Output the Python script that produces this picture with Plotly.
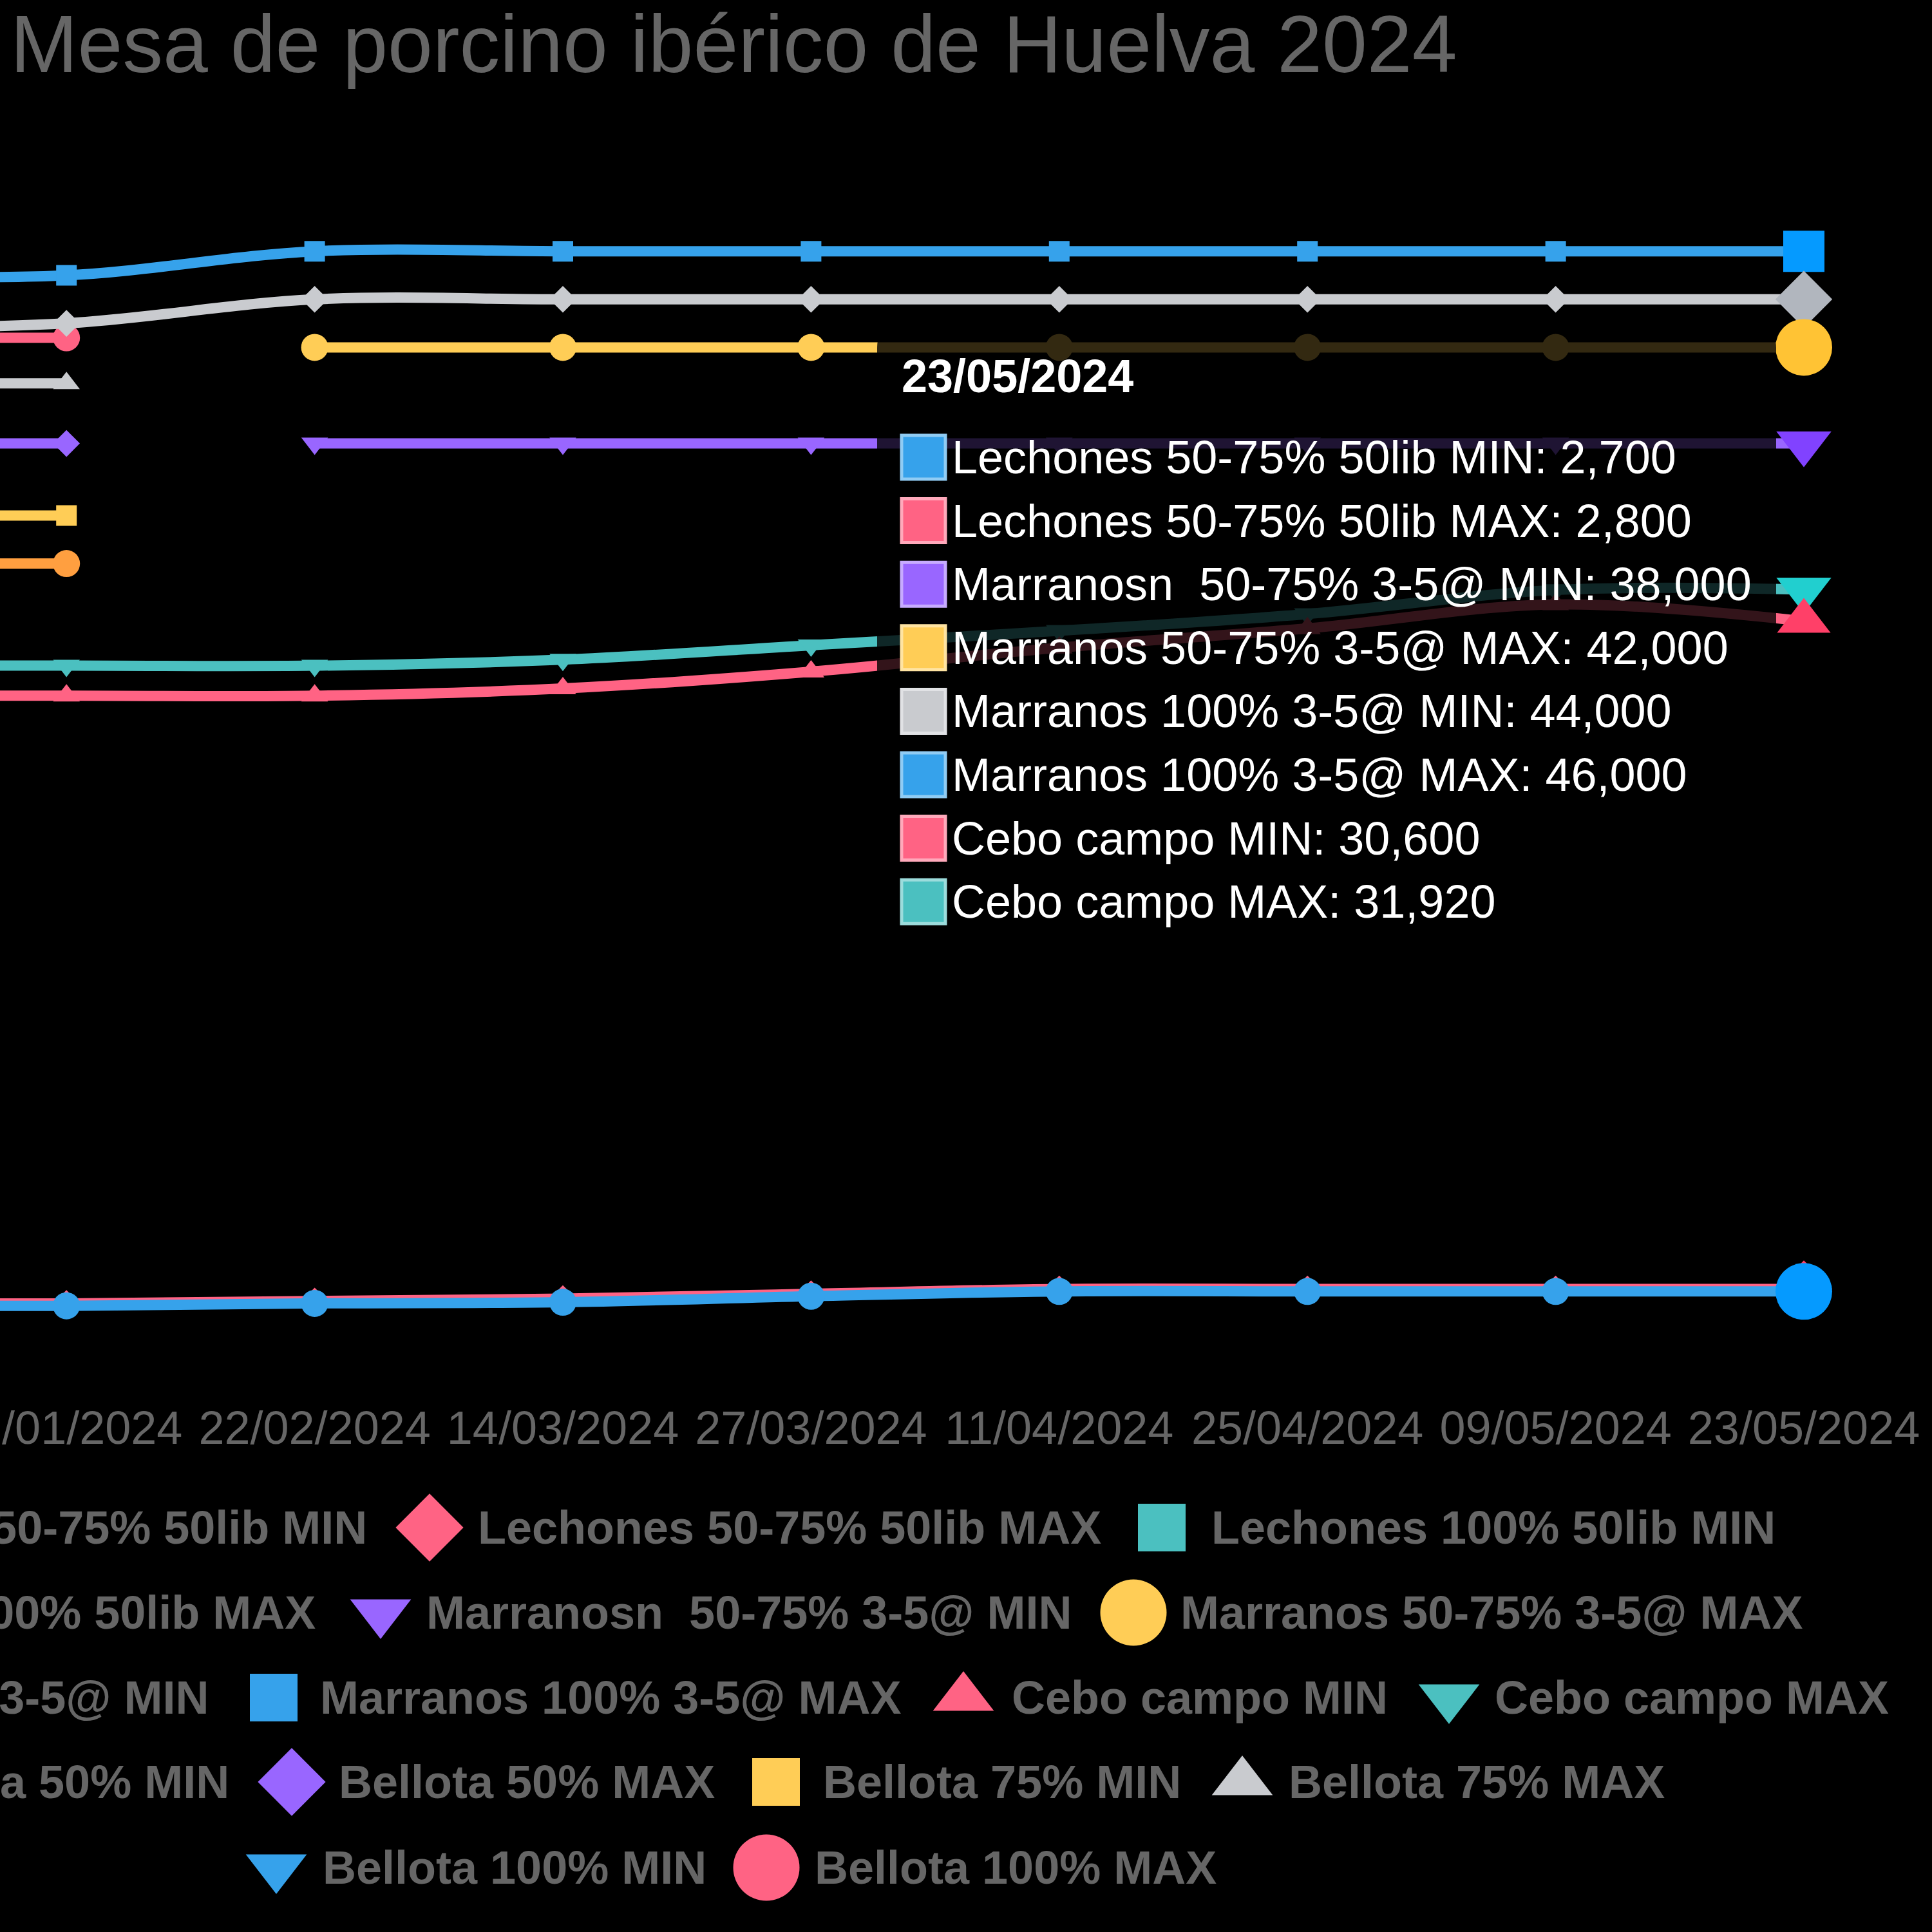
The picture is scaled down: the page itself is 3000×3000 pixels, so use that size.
import colorsys
import plotly.graph_objects as go

# ---------------- data ----------------
categories = ["11/01/2024", "25/01/2024", "22/02/2024", "14/03/2024", "27/03/2024",
              "11/04/2024", "25/04/2024", "09/05/2024", "23/05/2024"]

series_names = [
    "Lechones 50-75% 50lib MIN", "Lechones 50-75% 50lib MAX",
    "Lechones 100% 50lib MIN", "Lechones 100% 50lib MAX",
    "Marranosn  50-75% 3-5@ MIN", "Marranos 50-75% 3-5@ MAX",
    "Marranos 100% 3-5@ MIN", "Marranos 100% 3-5@ MAX",
    "Cebo campo MIN", "Cebo campo MAX",
    "Bellota 50% MIN", "Bellota 50% MAX",
    "Bellota 75% MIN", "Bellota 75% MAX",
    "Bellota 100% MIN", "Bellota 100% MAX",
]

lechones_5075_min = [2100, 2100, 2200, 2250, 2500, 2700, 2700, 2700, 2700]
lechones_5075_max = [2200, 2200, 2300, 2400, 2600, 2800, 2800, 2800, 2800]
lechones_100_min = [None, None, None, None, None, None, None, None, None]
lechones_100_max = [None, None, None, None, None, None, None, None, None]
marranos_5075_min = [None, None, 38000, 38000, 38000, 38000, 38000, 38000, 38000]
marranos_5075_max = [None, None, 42000, 42000, 42000, 42000, 42000, 42000, 42000]
marranos_100_min = [42800, 43000, 44000, 44000, 44000, 44000, 44000, 44000, 44000]
marranos_100_max = [45000, 45000, 46000, 46000, 46000, 46000, 46000, 46000, 46000]
cebo_min = [27500, 27500, 27500, 27800, 28500, 29500, 30300, 31300, 30600]
cebo_max = [28750, 28750, 28750, 29000, 29600, 30200, 30900, 31900, 31920]
bellota_50_min = [33000, 33000, None, None, None, None, None, None, None]
bellota_50_max = [38000, 38000, None, None, None, None, None, None, None]
bellota_75_min = [35000, 35000, None, None, None, None, None, None, None]
bellota_75_max = [40500, 40500, None, None, None, None, None, None, None]
bellota_100_min = [None, None, None, None, None, None, None, None, None]
bellota_100_max = [42400, 42400, None, None, None, None, None, None, None]

series_values = [
    lechones_5075_min, lechones_5075_max, lechones_100_min, lechones_100_max,
    marranos_5075_min, marranos_5075_max, marranos_100_min, marranos_100_max,
    cebo_min, cebo_max, bellota_50_min, bellota_50_max,
    bellota_75_min, bellota_75_max, bellota_100_min, bellota_100_max,
]

hovered_index = len(categories) - 1
title_text = "Mesa de porcino ibérico de Huelva 2024"

# ---------------- styles ----------------
palette = ["#36A2EB", "#FF6384", "#4BC0C0", "#FF9F40", "#9966FF", "#FFCD56", "#C9CBCF"]
point_styles = ["circle", "diamond", "square", "triangle-up", "triangle-down"]
normal_size = {"circle": 42, "diamond": 32, "square": 32, "triangle-up": 36, "triangle-down": 36}
hover_size = {"circle": 88, "diamond": 68, "square": 64, "triangle-up": 72, "triangle-down": 74}
legend_size = {"circle": 103, "diamond": 81, "square": 74, "triangle-up": 82, "triangle-down": 82}

FONT = "Liberation Sans, Arial, sans-serif"
GREY = "#666666"
W = H = 3000


def hover_color(hexc):
    r, g, b = [int(hexc[k:k + 2], 16) / 255 for k in (1, 3, 5)]
    h, l, s = colorsys.rgb_to_hls(r, g, b)
    s = min(1.0, s * 1.5)
    l = l * 0.9
    r, g, b = colorsys.hls_to_rgb(h, l, s)
    return "rgb(%d,%d,%d)" % (round(r * 255), round(g * 255), round(b * 255))


def tint(hexc, f=0.45):
    r, g, b = [int(hexc[k:k + 2], 16) for k in (1, 3, 5)]
    return "rgb(%d,%d,%d)" % (round(r + (255 - r) * f), round(g + (255 - g) * f), round(b + (255 - b) * f))


def disp(name):
    return name.replace("  ", " \u00a0")


fig = go.Figure()

# ---------------- main lines (dataset 0 drawn on top) ----------------
for i in reversed(range(len(series_names))):
    vals = series_values[i]
    col = palette[i % len(palette)]
    sym = point_styles[i % len(point_styles)]
    sizes = [hover_size[sym] if (j == hovered_index and v is not None) else normal_size[sym]
             for j, v in enumerate(vals)]
    cols = [hover_color(col) if (j == hovered_index and v is not None) else col
            for j, v in enumerate(vals)]
    fig.add_trace(go.Scatter(
        x=categories, y=vals, mode="lines+markers", name=series_names[i],
        line=dict(color=col, width=16, shape="spline", smoothing=1.0),
        marker=dict(symbol=sym, size=sizes, color=cols, opacity=1, line=dict(width=0)),
        cliponaxis=False, showlegend=False, hoverinfo="skip",
        xaxis="x", yaxis="y",
    ))

# ---------------- custom legend (pixel overlay axes) ----------------
legend_rows_y = [2372, 2504, 2636, 2767, 2900]
# (series index, row, symbol centre x or None, text x, text anchor)
legend_items = [
    (0, 0, None, 572, "right"), (1, 0, 667, 740, "left"), (2, 0, 1804, 1879, "left"),
    (3, 1, None, 492, "right"), (4, 1, 591, 660, "left"), (5, 1, 1760, 1831, "left"),
    (6, 2, None, 327, "right"), (7, 2, 425, 495, "left"), (8, 2, 1496, 1569, "left"),
    (9, 2, 2250, 2319, "left"),
    (10, 3, None, 358, "right"), (11, 3, 453, 524, "left"), (12, 3, 1205, 1276, "left"),
    (13, 3, 1929, 1999, "left"),
    (14, 4, 429, 499, "left"), (15, 4, 1190, 1263, "left"),
]

lx, ly, lsym, lcol, lsz = [], [], [], [], []
annotations = []
for idx, row, sx, tx, anchor in legend_items:
    sym = point_styles[idx % len(point_styles)]
    col = palette[idx % len(palette)]
    if sx is not None:
        lx.append(sx)
        ly.append(legend_rows_y[row])
        lsym.append(sym)
        lcol.append(col)
        lsz.append(legend_size[sym])
    annotations.append(dict(
        x=tx, y=legend_rows_y[row], xref="x2", yref="y2", text="<b>%s</b>" % disp(series_names[idx]),
        showarrow=False, xanchor=anchor, yanchor="middle",
        font=dict(family=FONT, size=72, color=GREY),
    ))

fig.add_trace(go.Scatter(
    x=lx, y=ly, mode="markers", xaxis="x2", yaxis="y2",
    marker=dict(symbol=lsym, color=lcol, size=lsz, opacity=1, line=dict(width=0)),
    showlegend=False, hoverinfo="skip", cliponaxis=False,
))

# ---------------- title ----------------
annotations.append(dict(
    x=14, y=68, xref="x2", yref="y2", text=title_text, showarrow=False,
    xanchor="left", yanchor="middle", font=dict(family=FONT, size=125.5, color=GREY),
))

# ---------------- tooltip ----------------
tx0, tx1, ty0, ty1, rad = 1362, 2758, 504, 1480, 36
tip_path = ("M %d,%d L %d,%d Q %d,%d %d,%d L %d,%d Q %d,%d %d,%d L %d,%d Q %d,%d %d,%d "
            "L %d,%d Q %d,%d %d,%d Z") % (
    tx0 + rad, ty0, tx1 - rad, ty0, tx1, ty0, tx1, ty0 + rad,
    tx1, ty1 - rad, tx1, ty1, tx1 - rad, ty1,
    tx0 + rad, ty1, tx0, ty1, tx0, ty1 - rad,
    tx0, ty0 + rad, tx0, ty0, tx0 + rad, ty0)
shapes = [dict(type="path", path=tip_path, xref="x2", yref="y2",
               fillcolor="rgba(0,0,0,0.8)", line=dict(width=0), layer="above")]

annotations.append(dict(
    x=1398, y=584, xref="x2", yref="y2", text="<b>%s</b>" % categories[hovered_index],
    showarrow=False, xanchor="left", yanchor="middle",
    font=dict(family=FONT, size=72, color="#ffffff"),
))

row_y0, row_dy = 710, 98.6
k = 0
for i, name in enumerate(series_names):
    v = series_values[i][hovered_index]
    if v is None:
        continue
    col = palette[i % len(palette)]
    cy = row_y0 + k * row_dy
    shapes.append(dict(type="rect", xref="x2", yref="y2", x0=1400, x1=1468,
                       y0=cy - 34, y1=cy + 34, fillcolor=col,
                       line=dict(color=tint(col), width=5), layer="above"))
    annotations.append(dict(
        x=1476, y=cy, xref="x2", yref="y2", text="%s: %s" % (disp(name), format(v, ",")),
        showarrow=False, xanchor="left", yanchor="middle",
        font=dict(family=FONT, size=72, color="#ffffff"),
    ))
    k += 1

# ---------------- layout ----------------
x_left_px, x_right_px = 0, 2801
first_vis_px = 103.2
step_px = (x_right_px - first_vis_px) / (len(categories) - 2)
x_range_start = 1 - (first_vis_px - x_left_px) / step_px

y_top_px, y_bot_px = 241, 2106

fig.update_layout(
    width=W, height=H, autosize=False,
    margin=dict(l=0, r=0, t=0, b=0, pad=0),
    paper_bgcolor="#000000", plot_bgcolor="rgba(0,0,0,0)",
    hovermode=False, showlegend=False,
    xaxis=dict(
        type="category", categoryorder="array", categoryarray=categories,
        domain=[x_left_px / W, x_right_px / W],
        range=[x_range_start, len(categories) - 1],
        tickmode="array", tickvals=categories, ticktext=categories,
        tickangle=0, showgrid=False, zeroline=False, showline=False, ticks="",
        tickfont=dict(family=FONT, size=72, color=GREY),
        ticklabelstandoff=63, automargin=False, fixedrange=True,
    ),
    yaxis=dict(
        domain=[1 - y_bot_px / H, 1 - y_top_px / H], range=[0, 50000],
        showgrid=False, zeroline=False, showline=False, showticklabels=False,
        ticks="", automargin=False, fixedrange=True,
    ),
    xaxis2=dict(domain=[0, 1], range=[0, W], anchor="y2", visible=False, fixedrange=True),
    yaxis2=dict(domain=[0, 1], range=[H, 0], anchor="x2", visible=False, fixedrange=True),
    shapes=shapes,
    annotations=annotations,
)

fig.write_html("out.html")
